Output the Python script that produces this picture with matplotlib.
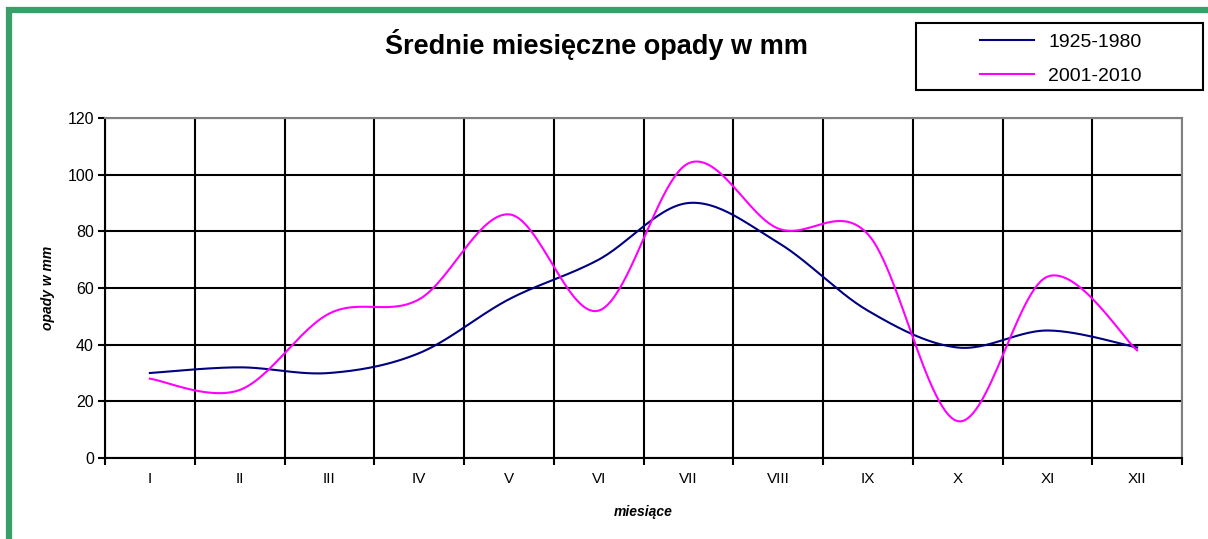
import numpy as np
import matplotlib.pyplot as plt
from matplotlib.patches import Rectangle

# Dane: średnie miesięczne opady (mm)
miesiace = ['I', 'II', 'III', 'IV', 'V', 'VI', 'VII', 'VIII', 'IX', 'X', 'XI', 'XII']
opady_1925_1980 = [30, 32, 30, 37, 56, 70, 90, 76, 52, 39, 45, 39]
opady_2001_2010 = [28, 24, 51, 56, 86, 52, 104, 81, 79, 13, 64, 38]

plt.rcParams['font.family'] = ['Liberation Sans', 'DejaVu Sans']


def wygladz(x, y, n=30):
    # wygładzanie jak w Excelu (spline Catmulla-Roma)
    x = np.asarray(x, float)
    y = np.asarray(y, float)
    px = np.concatenate([[x[0]], x, [x[-1]]])
    py = np.concatenate([[y[0]], y, [y[-1]]])
    xs, ys = [], []
    t = np.linspace(0, 1, n)
    for i in range(1, len(px) - 2):
        p0, p1, p2, p3 = py[i - 1], py[i], py[i + 1], py[i + 2]
        q0, q1, q2, q3 = px[i - 1], px[i], px[i + 1], px[i + 2]
        c1y = p1 + (p2 - p0) / 6
        c2y = p2 - (p3 - p1) / 6
        c1x = q1 + (q2 - q0) / 6
        c2x = q2 - (q3 - q1) / 6
        b0 = (1 - t) ** 3
        b1 = 3 * (1 - t) ** 2 * t
        b2 = 3 * (1 - t) * t ** 2
        b3 = t ** 3
        xs.append(b0 * q1 + b1 * c1x + b2 * c2x + b3 * q2)
        ys.append(b0 * p1 + b1 * c1y + b2 * c2y + b3 * p2)
    return np.concatenate(xs), np.concatenate(ys)


fig = plt.figure(figsize=(12.08, 5.39), dpi=100)
ax = fig.add_axes([105 / 1208, 81 / 539, 1077 / 1208, 340 / 539])

x = np.arange(len(miesiace)) + 0.5
xs, ys = wygladz(x, opady_1925_1980)
ax.plot(xs, ys, color='#000080', lw=1.5, label='1925-1980', zorder=3)
xs, ys = wygladz(x, opady_2001_2010)
ax.plot(xs, ys, color='#ff00ff', lw=1.5, label='2001-2010', zorder=3)

ax.set_xlim(0, len(miesiace))
ax.set_ylim(0, 120)
ax.set_yticks(np.arange(0, 121, 20))
ax.set_xticks(np.arange(0, len(miesiace) + 1))
ax.set_xticklabels([])
ax.set_xticks(x, minor=True)
ax.set_xticklabels(miesiace, minor=True)
ax.tick_params(axis='x', which='minor', length=0, pad=10, labelsize=11)
ax.tick_params(axis='x', which='major', length=5, width=1.5, direction='out')
ax.tick_params(axis='y', length=5, width=1.5, direction='out', labelsize=11.5, pad=3)
ax.grid(True, which='major', color='black', lw=1.5)
ax.set_axisbelow(True)
for s in ['left', 'bottom']:
    ax.spines[s].set_linewidth(1.5)
for s in ['top', 'right']:
    ax.spines[s].set_color('#808080')
    ax.spines[s].set_linewidth(1.5)

ax.set_ylabel('opady w mm', fontsize=10, fontweight='bold', style='italic', labelpad=9)
ax.set_xlabel('miesiące', fontsize=10, fontweight='bold', style='italic', labelpad=14)

fig.text(596 / 1208, 1 - 54.5 / 539, 'Średnie miesięczne opady w mm', ha='center', va='baseline',
         fontsize=19.5, fontweight='bold')

# legenda: ramka osobno, wpisy bez ramki
fig.patches.append(Rectangle((916 / 1208, 1 - 90 / 539), 287 / 1208, 67 / 539, transform=fig.transFigure,
                             fill=False, edgecolor='black', lw=1.5))
leg = fig.legend(loc='center left', bbox_to_anchor=(980 / 1208, 1 - 59 / 539), fontsize=14,
                 frameon=False, handlelength=2.8, handletextpad=0.7,
                 borderpad=0, labelspacing=0.87, borderaxespad=0)

# zielona ramka wokół wykresu
fig.patches.append(Rectangle((9 / 1208, -0.1), 1.2, 1.1 - 10 / 539, transform=fig.transFigure,
                             fill=False, edgecolor='#3a9e6a', lw=4.5))

fig.savefig('out.png', dpi=100)
